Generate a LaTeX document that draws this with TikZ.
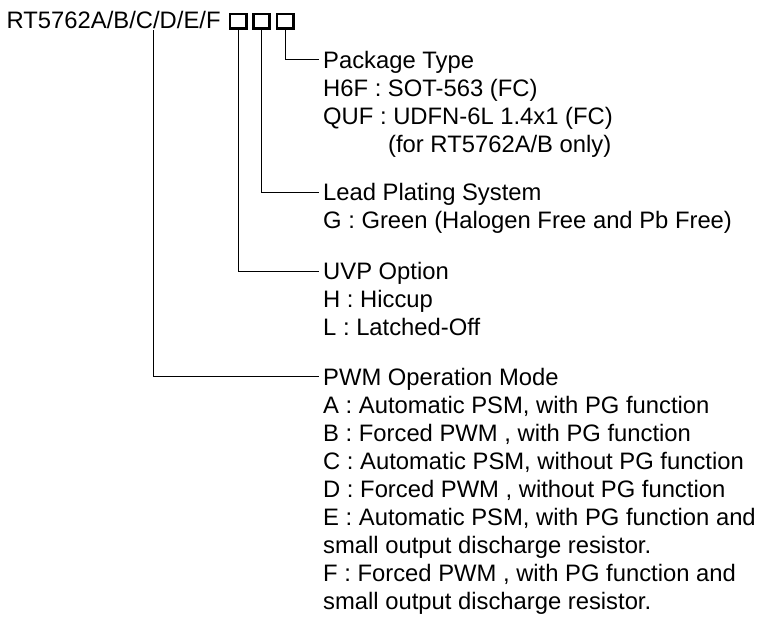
\documentclass[tikz,border=0pt]{standalone}
\usepackage{fontspec}
\setmainfont{Liberation Sans}
\usepackage{tikz}

\begin{document}
\begin{tikzpicture}[x=1pt,y=-1pt]
	\tikzstyle{every node}=[font=\fontsize{23.8}{28}\selectfont,inner sep=0pt]
	\tikzstyle{itemtxt}=[anchor=base west]
	\tikzstyle{headtxt}=[anchor=base west,text height=17pt,text depth=0pt]
	\tikzstyle{pinbox}=[draw,line width=2.6pt,minimum width=16.4pt,minimum height=14.4pt]
	\tikzstyle{wire}=[line width=0.8pt,shorten >=4.5pt]
	\useasboundingbox (0,0) rectangle (762,624);
	\node[itemtxt] (pn) at (6.5,28.3) {RT5762A/B/C/D/E/F};
	\node[pinbox] (b1) at (238,21) {};
	\node[pinbox] (b2) at (261.5,21) {};
	\node[pinbox] (b3) at (285,21) {};
	\coordinate (selC) at (153,30);
	% package type
	\node[headtxt] (pkg) at (323,68) {Package Type};
	\foreach \t [count=\i] in {{H6F : SOT-563 (FC)},{QUF : UDFN-6L 1.4x1 (FC)},{\hspace*{65pt}(for RT5762A/B only)}}
		\node[itemtxt] (pkg\i) at ([yshift={-28pt*\i}]pkg.base west) {\t};
	% lead plating
	\node[headtxt] (lps) at (323,200.5) {Lead Plating System};
	\node[itemtxt] (lps1) at ([yshift=-28pt]lps.base west) {G : Green (Halogen Free and Pb Free)};
	% uvp
	\node[headtxt] (uvp) at (323,279.5) {UVP Option};
	\foreach \t [count=\i] in {{H : Hiccup},{L : Latched-Off}}
		\node[itemtxt] (uvp\i) at ([yshift={-28pt*\i}]uvp.base west) {\t};
	% pwm mode
	\node[headtxt] (pwm) at (323,385) {PWM Operation Mode};
	\foreach \t [count=\i] in {{A : Automatic PSM, with PG function},{B : Forced PWM , with PG function},{C : Automatic PSM, without PG function},{D : Forced PWM , without PG function},{E : Automatic PSM, with PG function and},{small output discharge resistor.},{F : Forced PWM , with PG function and},{small output discharge resistor.}}
		\node[itemtxt] (pwm\i) at ([yshift={-28pt*\i}]pwm.base west) {\t};
	\draw[wire] (b3.south) |- (pkg.west);
	\draw[wire] (b2.south) |- (lps.west);
	\draw[wire] (b1.south) |- (uvp.west);
	\draw[wire] (selC) |- (pwm.west);
\end{tikzpicture}
\end{document}
